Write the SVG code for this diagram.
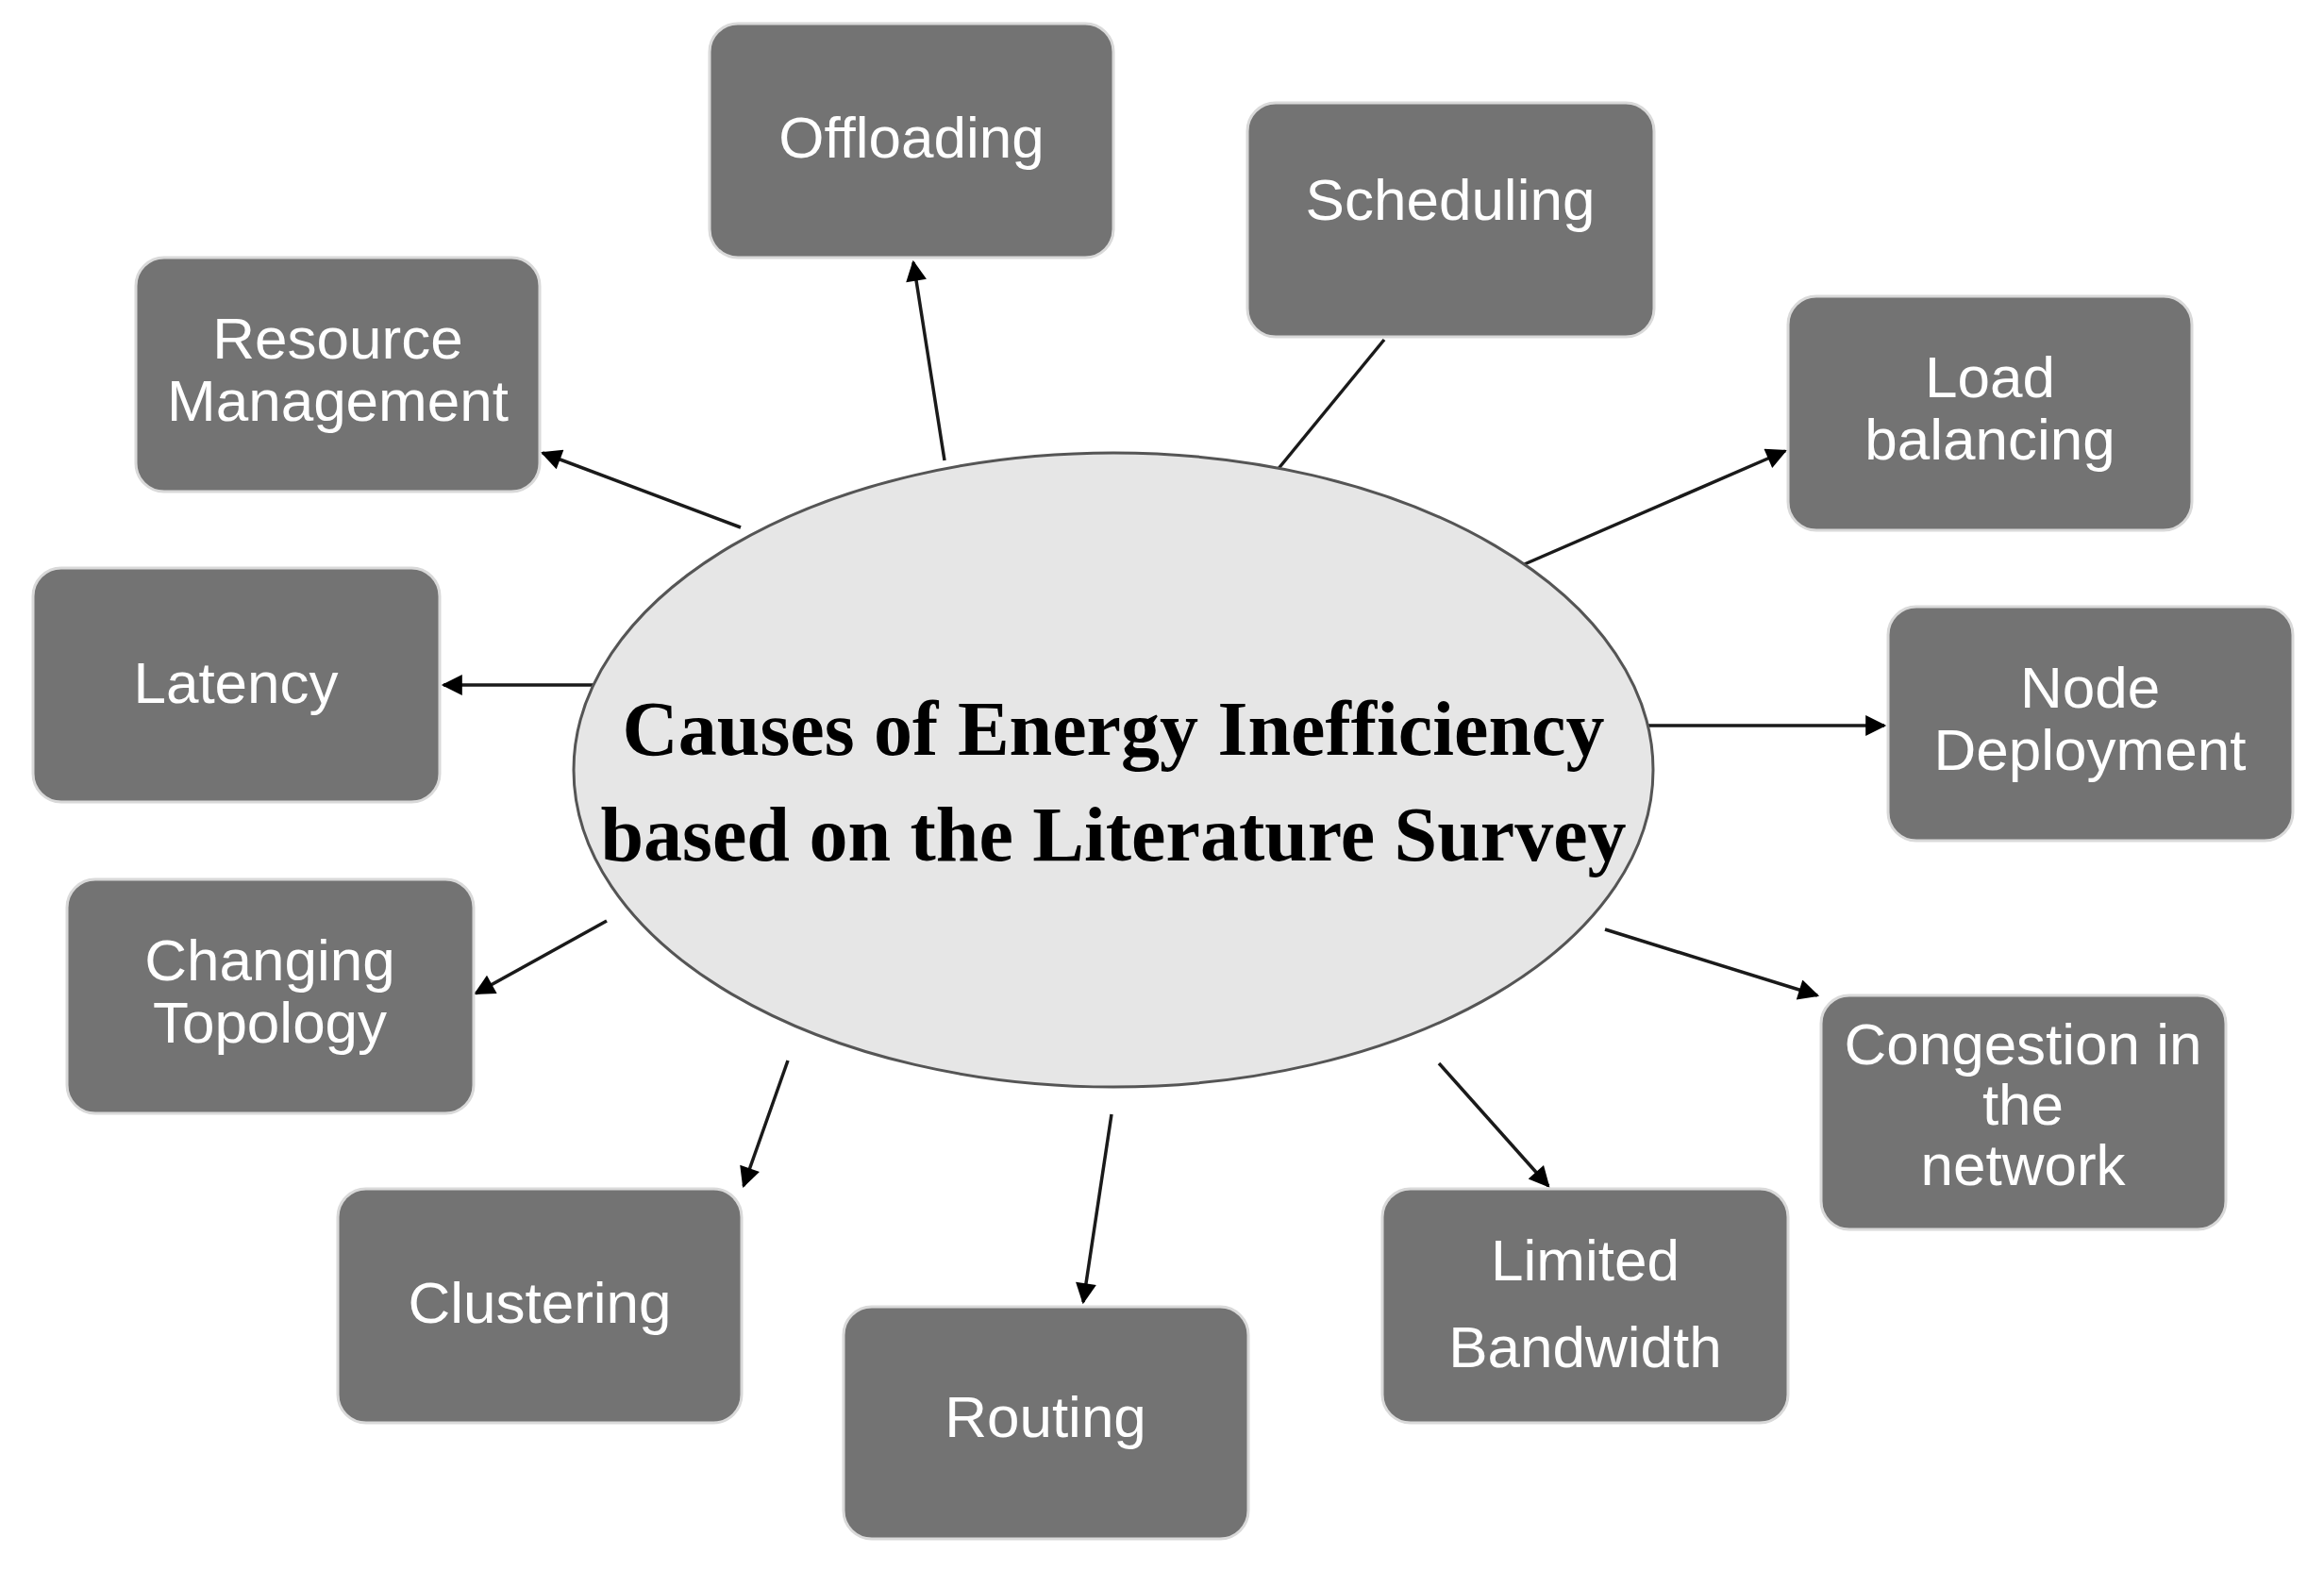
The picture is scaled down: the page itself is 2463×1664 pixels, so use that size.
<svg xmlns="http://www.w3.org/2000/svg" width="2463" height="1664" viewBox="0 0 2463 1664">
<style>
.b{fill:#737373;stroke:#d9d9d9;stroke-width:3}
.t{fill:#fff;font-family:"Liberation Sans",Arial,sans-serif;font-size:62px;text-anchor:middle}
.c{stroke:#1a1a1a;stroke-width:3.5;fill:none}
</style>
<defs><marker id="a" viewBox="0 0 10 10" refX="9" refY="5" markerWidth="28" markerHeight="22" markerUnits="userSpaceOnUse" orient="auto"><path d="M0,0L10,5L0,10z" fill="#000"/></marker></defs>
<rect width="2463" height="1664" fill="#fff"/>
<g id="connectors">
<line class="c" x1="1001" y1="488" x2="968" y2="278" marker-end="url(#a)"/>
<line class="c" x1="1353" y1="499" x2="1467" y2="360"/>
<line class="c" x1="785" y1="559" x2="575" y2="480" marker-end="url(#a)"/>
<line class="c" x1="1611" y1="600" x2="1892" y2="478" marker-end="url(#a)"/>
<line class="c" x1="639" y1="726" x2="470" y2="726" marker-end="url(#a)"/>
<line class="c" x1="1718" y1="769" x2="1997" y2="769" marker-end="url(#a)"/>
<line class="c" x1="643" y1="976" x2="504" y2="1053" marker-end="url(#a)"/>
<line class="c" x1="1701" y1="985" x2="1926" y2="1055" marker-end="url(#a)"/>
<line class="c" x1="835" y1="1124" x2="788" y2="1257" marker-end="url(#a)"/>
<line class="c" x1="1525" y1="1127" x2="1641" y2="1257" marker-end="url(#a)"/>
<line class="c" x1="1178" y1="1181" x2="1148" y2="1380" marker-end="url(#a)"/>
</g>
<g id="center">
<ellipse cx="1180" cy="816" rx="572" ry="336" fill="#e6e6e6" stroke="#555" stroke-width="3"/>
<text x="1180" y="800" text-anchor="middle" font-family="Liberation Serif,serif" font-weight="bold" font-size="82">Causes of Energy Inefficiency</text>
<text x="1180" y="912" text-anchor="middle" font-family="Liberation Serif,serif" font-weight="bold" font-size="82">based on the Literature Survey</text>
</g>
<g id="offloading"><rect class="b" x="752" y="25" width="428" height="248" rx="30"/><text class="t" x="966" y="167">Offloading</text></g>
<g id="scheduling"><rect class="b" x="1322" y="109" width="431" height="248" rx="30"/><text class="t" x="1537" y="233">Scheduling</text></g>
<g id="resource"><rect class="b" x="144" y="273" width="428" height="248" rx="30"/><text class="t" x="358" y="380">Resource</text><text class="t" x="358" y="446">Management</text></g>
<g id="load"><rect class="b" x="1895" y="314" width="428" height="248" rx="30"/><text class="t" x="2109" y="421">Load</text><text class="t" x="2109" y="487">balancing</text></g>
<g id="latency"><rect class="b" x="35" y="602" width="431" height="248" rx="30"/><text class="t" x="250" y="745">Latency</text></g>
<g id="node"><rect class="b" x="2001" y="643" width="429" height="248" rx="30"/><text class="t" x="2215" y="750">Node</text><text class="t" x="2215" y="816">Deployment</text></g>
<g id="topology"><rect class="b" x="71" y="932" width="431" height="248" rx="30"/><text class="t" x="286" y="1039">Changing</text><text class="t" x="286" y="1105">Topology</text></g>
<g id="congestion"><rect class="b" x="1930" y="1055" width="429" height="248" rx="30"/><text class="t" x="2144" y="1128">Congestion in</text><text class="t" x="2144" y="1192">the</text><text class="t" x="2144" y="1256">network</text></g>
<g id="clustering"><rect class="b" x="358" y="1260" width="428" height="248" rx="30"/><text class="t" x="572" y="1402">Clustering</text></g>
<g id="bandwidth"><rect class="b" x="1465" y="1260" width="430" height="248" rx="30"/><text class="t" x="1680" y="1357">Limited</text><text class="t" x="1680" y="1449">Bandwidth</text></g>
<g id="routing"><rect class="b" x="894" y="1385" width="429" height="246" rx="30"/><text class="t" x="1108" y="1523">Routing</text></g>
</svg>
